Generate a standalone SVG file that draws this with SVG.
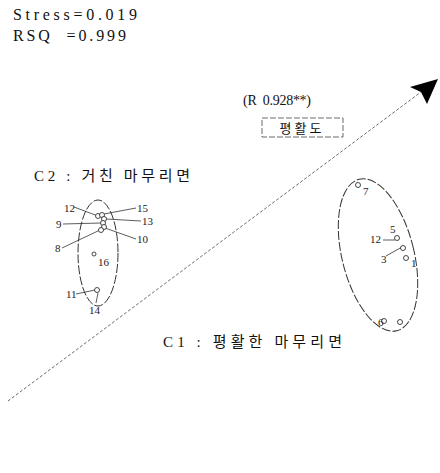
<svg xmlns="http://www.w3.org/2000/svg" width="440" height="473" viewBox="0 0 440 473">
<style>
.t{font-family:"Liberation Serif","Noto Sans CJK KR",serif;fill:#111}
.k{font-family:"Liberation Serif","Noto Sans CJK KR",serif;fill:#111}
.n{font-family:"Liberation Serif",serif;font-size:11px;fill:#222}
.ld{stroke:#333;stroke-width:0.8;fill:none}
.pt{fill:#fff;stroke:#333;stroke-width:0.9}
.el{fill:none;stroke:#333;stroke-width:1;stroke-dasharray:9 2}
</style>
<rect width="440" height="473" fill="#fff"/>
<g id="stats">
<text class="t" x="13" y="20" font-size="16" textLength="124" lengthAdjust="spacing">Stress=0.019</text>
<text class="t" x="13" y="41" font-size="16" textLength="113" lengthAdjust="spacing" xml:space="preserve">RSQ  =0.999</text>
</g>
<g id="connectors">
<line x1="8" y1="401" x2="421" y2="92" stroke="#444" stroke-width="0.8" stroke-dasharray="3 2"/>
<polygon points="438,79 410,87 421,92 427,104" fill="#000"/>
</g>
<g id="axis-label">
<text class="t" x="243" y="105" font-size="14" textLength="68" lengthAdjust="spacing" xml:space="preserve">(R  0.928**)</text>
<rect x="262" y="118" width="81" height="19" fill="none" stroke="#444" stroke-width="0.8" stroke-dasharray="6 2"/>
<text class="k" x="302" y="133" font-size="13" text-anchor="middle" letter-spacing="3">평활도</text>
</g>
<g id="C2">
<text class="k" x="34" y="181" font-size="15" textLength="156" lengthAdjust="spacing">C2 : 거친 마무리면</text>
<ellipse class="el" cx="98" cy="253" rx="20" ry="53"/>
<path class="ld" d="M74,207 L98,216 M104,214 L136,208 M63,224 L101,223 M106,219 L141,221 M105,228 L136,239 M62,248 L100,230 M76,294 L95,290 M96,303 L98,293"/>
<circle class="pt" cx="98" cy="216" r="2.5"/>
<circle class="pt" cx="102" cy="215" r="2.5"/>
<circle class="pt" cx="104" cy="219" r="2.5"/>
<circle class="pt" cx="103" cy="223" r="2.5"/>
<circle class="pt" cx="104" cy="227" r="2.5"/>
<circle class="pt" cx="101" cy="230" r="2.5"/>
<circle class="pt" cx="94" cy="254" r="2"/>
<circle class="pt" cx="97" cy="290" r="2.5"/>
<text class="n" x="64" y="212">12</text>
<text class="n" x="137" y="212">15</text>
<text class="n" x="56" y="228">9</text>
<text class="n" x="142" y="225">13</text>
<text class="n" x="137" y="243">10</text>
<text class="n" x="55" y="252">8</text>
<text class="n" x="98" y="266">16</text>
<text class="n" x="66" y="298">11</text>
<text class="n" x="89" y="314">14</text>
</g>
<g id="C1">
<text class="k" x="163" y="347" font-size="15" textLength="179" lengthAdjust="spacing">C1 : 평활한 마무리면</text>
<ellipse class="el" cx="378" cy="255" rx="36" ry="78" transform="rotate(-14 378 255)"/>
<path class="ld" d="M383,240 L395,240 M386,256 L402,247"/>
<circle class="pt" cx="358" cy="185" r="2.5"/>
<circle class="pt" cx="397" cy="238" r="2.5"/>
<circle class="pt" cx="403" cy="248" r="2.5"/>
<circle class="pt" cx="406" cy="258" r="2.5"/>
<circle class="pt" cx="384" cy="321" r="2.5"/>
<circle class="pt" cx="400" cy="322" r="2.5"/>
<text class="n" x="363" y="195">7</text>
<text class="n" x="390" y="233">5</text>
<text class="n" x="370" y="243">12</text>
<text class="n" x="381" y="263">3</text>
<text class="n" x="411" y="267">1</text>
<text class="n" x="378" y="326">6</text>
</g>
</svg>
